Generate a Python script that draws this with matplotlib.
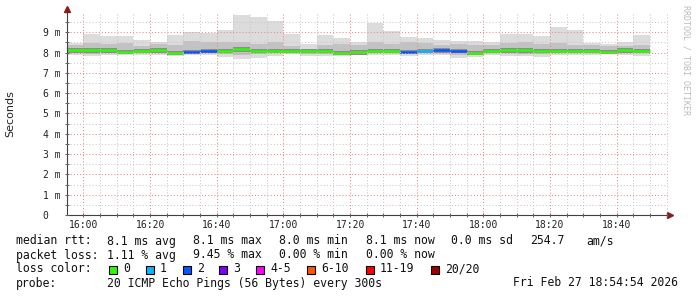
import matplotlib
matplotlib.use('Agg')
import matplotlib.pyplot as plt
import matplotlib.dates as mdates
import pandas as pd

# 5 minute steps starting 15:55, values in ms
times = pd.date_range('2026-02-27 15:55', periods=35, freq='5min')
rtt_max = [8.45, 8.92, 8.82, 8.82, 8.62, 8.53, 8.87, 9.00, 8.95, 9.12,
           9.87, 9.77, 9.57, 8.92, 8.40, 8.87, 8.70, 8.50, 9.48, 9.07,
           8.78, 8.72, 8.62, 8.57, 8.57, 8.50, 8.92, 8.92, 8.82, 9.28,
           9.12, 8.48, 8.42, 8.50, 8.87]
rtt_hi = [8.35, 8.45, 8.40, 8.45, 8.30, 8.40, 8.35, 8.55, 8.50, 8.50,
          8.50, 8.40, 8.50, 8.30, 8.20, 8.35, 8.40, 8.35, 8.50, 8.40,
          8.50, 8.45, 8.35, 8.40, 8.35, 8.35, 8.45, 8.50, 8.40, 8.45,
          8.35, 8.35, 8.30, 8.30, 8.35]
rtt_med = [8.12, 8.12, 8.12, 8.05, 8.10, 8.12, 8.00, 8.03, 8.10, 8.08,
           8.17, 8.10, 8.08, 8.10, 8.10, 8.08, 8.00, 8.02, 8.10, 8.10,
           8.05, 8.10, 8.12, 8.10, 8.00, 8.08, 8.12, 8.12, 8.10, 8.10,
           8.10, 8.08, 8.05, 8.12, 8.10]
rtt_lo = [7.98, 7.95, 7.97, 7.98, 7.97, 7.98, 7.93, 7.96, 7.98, 7.92,
          7.90, 7.92, 7.96, 8.00, 7.95, 7.94, 7.93, 7.96, 7.97, 7.97,
          7.95, 7.98, 7.97, 7.90, 7.92, 7.97, 7.96, 7.95, 7.93, 7.97,
          7.97, 7.98, 7.99, 7.98, 7.96]
rtt_min = [7.90, 7.83, 7.88, 7.90, 7.88, 7.90, 7.83, 7.88, 7.90, 7.78,
           7.67, 7.72, 7.85, 7.95, 7.85, 7.83, 7.83, 7.88, 7.88, 7.88,
           7.85, 7.90, 7.88, 7.75, 7.78, 7.88, 7.85, 7.83, 7.80, 7.88,
           7.88, 7.90, 7.92, 7.90, 7.85]
loss = [0, 0, 0, 0, 0, 0, 0, 2, 2, 0,
        0, 0, 0, 0, 0, 0, 0, 0, 0, 0,
        2, 1, 2, 2, 0, 0, 0, 0, 0, 0,
        0, 0, 0, 0, 0]

loss_labels = ['0', '1', '2', '3', '4-5', '6-10', '11-19', '20/20']
loss_colors = ['#26ff00', '#00b8ff', '#0059ff', '#7e00ff', '#ff00ff',
               '#ff5500', '#ff0000', '#a10000']
loss_bins = [0, 1, 2, 3, 4, 4, 5, 5, 5, 5, 5, 6, 6, 6, 6, 6, 6, 6, 6, 6, 7]

W, H = 697, 297
fig = plt.figure(figsize=(W / 100, H / 100), dpi=100)
ax = fig.add_axes([67 / W, 1 - 215 / H, 601 / W, 202 / H])

step = 5 / 1440
ax.bar(times, [a - b for a, b in zip(rtt_max, rtt_min)], bottom=rtt_min, width=step,
       align='edge', color='#dcdcdc', lw=0, zorder=1)
ax.bar(times, [a - b for a, b in zip(rtt_hi, rtt_lo)], bottom=rtt_lo, width=step,
       align='edge', color='#c2c2c2', lw=0, zorder=1)
ax.bar(times, [0.22] * len(times), bottom=[m - 0.12 for m in rtt_med], width=step,
       align='edge', color='#8c8c8c', lw=0, zorder=1)
ends = times + pd.Timedelta(minutes=5)
ax.hlines(rtt_med, times, ends, colors=[loss_colors[loss_bins[l]] for l in loss],
          lw=1.8, zorder=2)

ax.set_xlim(pd.Timestamp('2026-02-27 15:55:03'), pd.Timestamp('2026-02-27 18:55:24'))
ax.set_ylim(0, 9.95)

ax.xaxis.set_major_locator(mdates.MinuteLocator(byminute=[0, 20, 40]))
ax.xaxis.set_minor_locator(mdates.MinuteLocator(byminute=range(0, 60, 5)))
ax.xaxis.set_major_formatter(mdates.DateFormatter('%H:%M'))
ax.set_yticks(range(10))
ax.set_yticklabels(['0'] + ['%d m' % v for v in range(1, 10)])
ax.set_yticks([v + 0.5 for v in range(10)], minor=True)

ax.grid(which='minor', color='#c8c8c8', lw=0.75, ls=(0, (1, 2)), zorder=3)
ax.grid(which='major', color='#ee8888', lw=0.75, ls=(0, (1, 2)), zorder=3)
ax.set_axisbelow(False)

mono = 'DejaVu Sans Mono'
ax.tick_params(which='both', direction='inout', length=3, width=0.7, color='#606060',
               labelsize=7, labelcolor='#222222')
ax.tick_params(axis='y', which='both', pad=16)
ax.tick_params(axis='x', which='both', pad=2)
for t in ax.get_xticklabels() + ax.get_yticklabels():
    t.set_family(mono)
for t in ax.get_yticklabels():
    t.set_horizontalalignment('left')

for s in ['top', 'right']:
    ax.spines[s].set_visible(False)
for s in ['left', 'bottom']:
    ax.spines[s].set_color('#404040')
    ax.spines[s].set_linewidth(0.8)
ax.plot([0], [1.02], marker='^', color='#8b1a1a', ms=4, transform=ax.transAxes, clip_on=False)
ax.plot([1.003], [0], marker='>', color='#8b1a1a', ms=4, transform=ax.transAxes, clip_on=False)

ax.set_ylabel('Seconds', fontsize=8, color='#222222', labelpad=20)
fig.text(686 / W, 1 - 5 / H, 'RRDTOOL / TOBI OETIKER', rotation=270, ha='center', va='top',
         family=mono, fontsize=6, color='#bbbbbb')


def put(x, y, s):
    fig.text(x / W, 1 - y / H, s, ha='left', va='center', family=mono, fontsize=8.3, color='#111111')


cols = [107, 193, 279, 365.7, 451]
put(16, 241, 'median rtt:')
for x, s in zip(cols + [530, 586], ['8.1 ms avg', '8.1 ms max', '8.0 ms min', '8.1 ms now',
                                    '0.0 ms sd', '254.7', 'am/s']):
    put(x, 241, s)
put(16, 255, 'packet loss:')
for x, s in zip(cols, ['1.11 % avg', '9.45 % max', '0.00 % min', '0.00 % now']):
    put(x, 255, s)
put(16, 269, 'loss color:')
box_x = [109, 146, 183, 219, 256, 307, 366, 431]
for x, c, s in zip(box_x, loss_colors, loss_labels):
    fig.patches.append(plt.Rectangle((x / W, 1 - 273.5 / H), 8 / W, 8 / H, transform=fig.transFigure,
                                     facecolor=c, edgecolor='black', lw=0.8))
    put(x + 14, 269, s)
put(16, 283, 'probe:')
put(107, 283, '20 ICMP Echo Pings (56 Bytes) every 300s')
put(513, 283, 'Fri Feb 27 18:54:54 2026')

fig.savefig('out.png', dpi=100, facecolor='white')
